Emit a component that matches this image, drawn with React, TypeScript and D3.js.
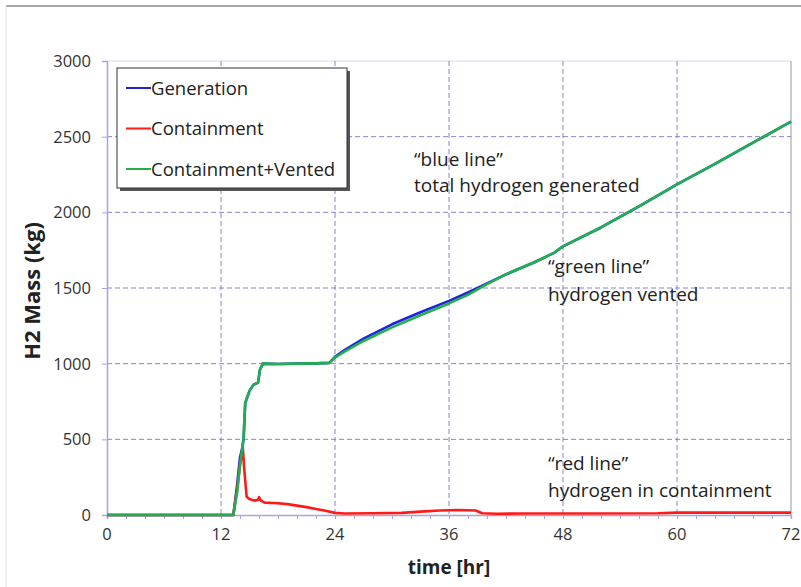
import React, { useEffect, useRef } from 'react';
import * as d3 from 'd3';

// time [hr] and H2 mass [kg]
const genTime = [0, 13.3, 13.7, 14.0, 14.25, 14.4, 14.55, 15.0, 15.4, 15.9, 16.1, 16.4, 18, 20, 22, 23.4, 24, 25, 27, 30, 33, 36, 38, 40, 42, 45, 47, 48, 52, 56, 60, 64, 68, 72];
const genMass = [0, 0, 200, 380, 445, 520, 740, 820, 860, 875, 960, 1000, 998, 1000, 1002, 1005, 1045, 1090, 1165, 1260, 1340, 1415, 1470, 1530, 1590, 1670, 1730, 1775, 1900, 2040, 2185, 2320, 2460, 2600];

const ventTime = [0, 13.3, 13.7, 14.0, 14.35, 14.55, 15.0, 15.4, 15.9, 16.1, 16.4, 18, 20, 22, 23.4, 24, 25, 27, 30, 33, 36, 38, 40, 42, 45, 47, 48, 52, 56, 60, 64, 68, 72];
const ventMass = [0, 0, 150, 330, 490, 740, 820, 860, 875, 960, 1000, 998, 1000, 1002, 1005, 1040, 1080, 1150, 1240, 1320, 1398, 1455, 1525, 1590, 1670, 1730, 1775, 1900, 2040, 2185, 2320, 2460, 2600];

const contTime = [0, 13.3, 13.7, 14.0, 14.3, 14.45, 14.7, 15.0, 15.5, 15.9, 16.0, 16.2, 16.6, 18, 19, 20, 21, 22, 23, 24, 25, 28, 31, 33, 35, 37, 38.8, 39.5, 41, 44, 50, 58, 60, 66, 72];
const contMass = [0, 0, 170, 330, 440, 300, 120, 105, 95, 100, 118, 95, 82, 78, 72, 62, 52, 40, 28, 14, 10, 12, 14, 22, 30, 33, 30, 12, 8, 10, 10, 12, 16, 16, 16];

const xTicks = [0, 12, 24, 36, 48, 60, 72];
const yTicks = [0, 500, 1000, 1500, 2000, 2500, 3000];
const legendNames = ['Generation', 'Containment', 'Containment+Vented'];
const legendColors = ['#2222dd', '#ff1a1a', '#22b04e'];

const FONT = "'Open Sans', Lato, sans-serif";

const App = () => {
    const ref = useRef<SVGSVGElement | null>(null);

    useEffect(() => {
        const svg = d3.select(ref.current);
        svg.selectAll('*').remove();

        const left = 107, right = 791, top = 61, bottom = 515;

        const x = d3.scaleLinear().domain([0, 72]).range([left, right]);
        const y = d3.scaleLinear().domain([0, 3000]).range([bottom, top]);

        // outer chart frame (cropped)
        svg.append('line').attr('x1', 6).attr('x2', 801).attr('y1', 6).attr('y2', 6)
            .attr('stroke', '#a8a8a8').attr('stroke-width', 2);
        svg.append('line').attr('x1', 6).attr('x2', 6).attr('y1', 6).attr('y2', 587)
            .attr('stroke', '#e2e2e2').attr('stroke-width', 1);

        // plot border
        svg.append('line').attr('x1', left).attr('x2', right).attr('y1', top).attr('y2', top)
            .attr('stroke', '#d8d8e8');
        svg.append('line').attr('x1', right).attr('x2', right).attr('y1', top).attr('y2', bottom)
            .attr('stroke', '#9a9a9a');

        // grid
        svg.append('g').selectAll('line')
            .data(xTicks.filter(t => t > 0 && t < 72))
            .enter().append('line')
            .attr('x1', d => x(d)).attr('x2', d => x(d))
            .attr('y1', top).attr('y2', bottom)
            .attr('stroke', '#8484d4').attr('stroke-dasharray', '5,3');
        svg.append('g').selectAll('line')
            .data(yTicks.filter(t => t > 0 && t < 3000))
            .enter().append('line')
            .attr('x1', left).attr('x2', right)
            .attr('y1', d => y(d)).attr('y2', d => y(d))
            .attr('stroke', '#8484d4').attr('stroke-dasharray', '5,3');

        // axes
        const xAxis = d3.axisBottom(x).tickValues(d3.range(0, 73, 2)).tickSize(4).tickFormat(() => '');
        const gx = svg.append('g').attr('transform', `translate(0, ${bottom})`).call(xAxis);
        gx.select('.domain').attr('stroke', '#a4a4e4').attr('stroke-width', 1.5);
        gx.selectAll('.tick line').attr('stroke', '#a4a4e4');

        const yAxis = d3.axisLeft(y).tickValues(yTicks).tickSize(5).tickFormat(() => '');
        const gy = svg.append('g').attr('transform', `translate(${left}, 0)`).call(yAxis);
        gy.select('.domain').attr('stroke', '#a4a4e4').attr('stroke-width', 1.5);
        gy.selectAll('.tick line').attr('stroke', '#a4a4e4');

        svg.append('g').selectAll('text')
            .data(xTicks).enter().append('text')
            .attr('x', d => x(d)).attr('y', 540)
            .attr('text-anchor', 'middle')
            .attr('font-family', FONT).attr('font-size', 16.5).attr('fill', '#333')
            .text(d => d);
        svg.append('g').selectAll('text')
            .data(yTicks).enter().append('text')
            .attr('x', 91).attr('y', d => y(d) + 6)
            .attr('text-anchor', 'end')
            .attr('font-family', FONT).attr('font-size', 16.5).attr('fill', '#333')
            .text(d => d);

        svg.append('text')
            .attr('x', 449).attr('y', 574)
            .attr('text-anchor', 'middle')
            .attr('font-family', FONT).attr('font-size', 19).attr('font-weight', 'bold').attr('fill', '#222')
            .text('time [hr]');
        svg.append('text')
            .attr('transform', `translate(40, 291) rotate(-90)`)
            .attr('text-anchor', 'middle')
            .attr('font-family', FONT).attr('font-size', 22).attr('font-weight', 'bold').attr('fill', '#222')
            .text('H2 Mass (kg)');

        // lines
        const line = d3.line<[number, number]>().x(d => x(d[0])).y(d => y(d[1]));
        const series: [number[], number[], string][] = [
            [genTime, genMass, legendColors[0]],
            [contTime, contMass, legendColors[1]],
            [ventTime, ventMass, legendColors[2]],
        ];
        series.forEach(([t, m, c]) => {
            svg.append('path')
                .datum(t.map((v, i) => [v, m[i]] as [number, number]))
                .attr('d', line)
                .attr('fill', 'none')
                .attr('stroke', c)
                .attr('stroke-width', 2.6)
                .attr('stroke-linejoin', 'round');
        });

        // legend
        const lg = svg.append('g');
        lg.append('rect').attr('x', 120).attr('y', 71).attr('width', 230).attr('height', 120).attr('fill', '#555');
        lg.append('rect').attr('x', 117).attr('y', 68).attr('width', 230).attr('height', 120)
            .attr('fill', '#fff').attr('stroke', '#333').attr('stroke-width', 1);
        legendNames.forEach((n, i) => {
            const ly = 88 + i * 40.5;
            lg.append('line').attr('x1', 126).attr('x2', 151).attr('y1', ly).attr('y2', ly)
                .attr('stroke', legendColors[i]).attr('stroke-width', 2);
            lg.append('text').attr('x', 151).attr('y', ly + 6.5)
                .attr('font-family', FONT).attr('font-size', 18.5).attr('fill', '#222')
                .text(n);
        });

        // annotations
        const notes: [number, number, string][] = [
            [414, 166, '\u201cblue line\u201d'],
            [414, 192, 'total hydrogen generated'],
            [548, 273, '\u201cgreen line\u201d'],
            [548, 301, 'hydrogen vented'],
            [548, 470, '\u201cred line\u201d'],
            [548, 497, 'hydrogen in containment'],
        ];
        svg.append('g').selectAll('text')
            .data(notes).enter().append('text')
            .attr('x', d => d[0]).attr('y', d => d[1])
            .attr('font-family', FONT).attr('font-size', 19).attr('fill', '#222')
            .text(d => d[2]);
    }, []);

    return (
        <svg ref={ref} width={801} height={587}
            style={{ position: 'absolute', left: 0, top: 0, background: '#fff' }} />
    );
};

export default App;
